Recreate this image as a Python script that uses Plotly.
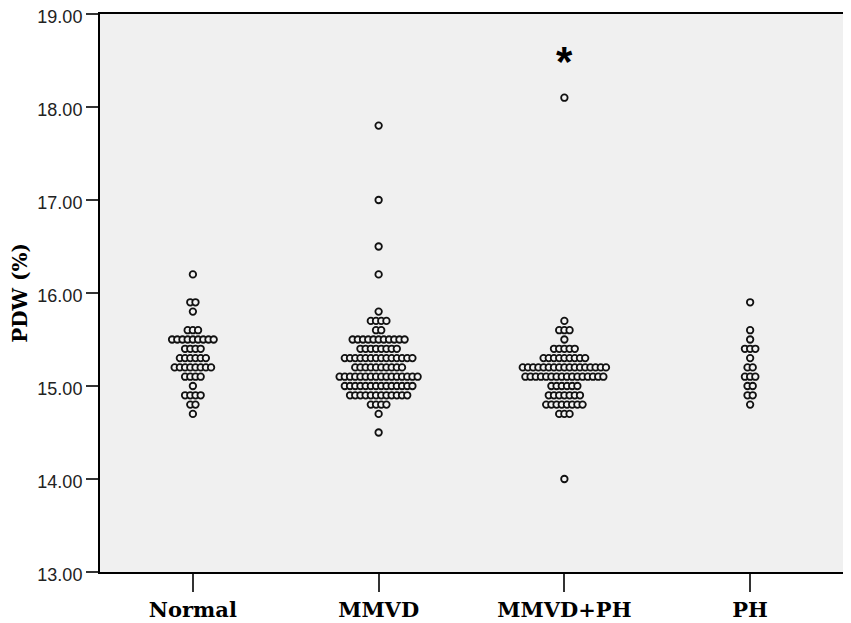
import plotly.graph_objects as go

# Group labels on the x axis
groups = ["Normal", "MMVD", "MMVD+PH", "PH"]

# PDW (%) levels and how many dogs sit on each level, per group
normal_levels = [16.2, 15.9, 15.8, 15.6, 15.5, 15.4, 15.3, 15.2, 15.1, 15.0, 14.9, 14.8, 14.7]
normal_counts = [1, 2, 1, 3, 9, 4, 6, 8, 4, 1, 4, 2, 1]

mmvd_levels = [17.8, 17.0, 16.5, 16.2, 15.8, 15.7, 15.6, 15.5, 15.4, 15.3, 15.2, 15.1, 15.0, 14.9, 14.8, 14.7, 14.5]
mmvd_counts = [1, 1, 1, 1, 1, 4, 2, 11, 8, 14, 10, 16, 14, 12, 4, 1, 1]

mmvdph_levels = [18.1, 15.7, 15.6, 15.5, 15.4, 15.3, 15.2, 15.1, 15.0, 14.9, 14.8, 14.7, 14.0]
mmvdph_counts = [1, 1, 3, 1, 5, 9, 17, 16, 6, 7, 8, 3, 1]

ph_levels = [15.9, 15.6, 15.5, 15.4, 15.3, 15.2, 15.1, 15.0, 14.9, 14.8]
ph_counts = [1, 1, 1, 3, 1, 2, 3, 2, 2, 1]

# extreme value flag shown for MMVD+PH
extreme_group = "MMVD+PH"
extreme_pos = 18.49

dot_step = 0.028  # horizontal spacing of stacked dots, in category units

fig = go.Figure()


def swarm(gi, levels, counts):
    xs, ys = [], []
    for lv, n in zip(levels, counts):
        for i in range(n):
            xs.append(gi + (i - (n - 1) / 2) * dot_step)
            ys.append(lv)
    return xs, ys


for gi, (levels, counts) in enumerate([(normal_levels, normal_counts),
                                       (mmvd_levels, mmvd_counts),
                                       (mmvdph_levels, mmvdph_counts),
                                       (ph_levels, ph_counts)]):
    xs, ys = swarm(gi, levels, counts)
    fig.add_trace(go.Scatter(
        x=xs, y=ys, mode="markers", name=groups[gi], showlegend=False,
        marker=dict(symbol="circle", size=6.5, color="#f4f4f4",
                    line=dict(color="#111111", width=1.8))))

fig.add_annotation(x=groups.index(extreme_group), y=extreme_pos, xref="x", yref="y",
                   text="<b>*</b>", showarrow=False,
                   font=dict(family="Liberation Sans, Arial", size=42, color="black"))

serif = "DejaVu Serif, Liberation Serif"

# page body adds an 8px offset, so the figure is drawn 8px smaller
fig.update_layout(
    width=843, height=615,
    margin=dict(l=92, r=8, t=6, b=51),
    paper_bgcolor="white",
    plot_bgcolor="#f0f0f0",
    xaxis=dict(range=[-0.5, 3.5], tickvals=[0, 1, 2, 3], ticktext=groups,
               showgrid=False, zeroline=False, automargin=False,
               ticks="outside", ticklen=18, tickwidth=1.5, tickcolor="#333",
               showline=True, linecolor="black", linewidth=2, mirror=True,
               tickfont=dict(family=serif, size=21, color="black", weight="bold")),
    yaxis=dict(range=[13, 19], tickvals=[13, 14, 15, 16, 17, 18, 19],
               ticktext=["13.00", "14.00", "15.00", "16.00", "17.00", "18.00", "19.00"],
               showgrid=False, zeroline=False, automargin=False,
               ticklabeloverflow="allow", ticklabelshift=3,
               ticks="outside", ticklen=12, tickwidth=1.5, tickcolor="#333",
               showline=True, linecolor="black", linewidth=2, mirror=True,
               tickfont=dict(family="Liberation Sans, Arial", size=18, color="#222"),
               title=dict(text="PDW (%)", standoff=6,
                          font=dict(family=serif, size=20, color="black", weight="bold"))),
)

fig.write_html("out.html")
